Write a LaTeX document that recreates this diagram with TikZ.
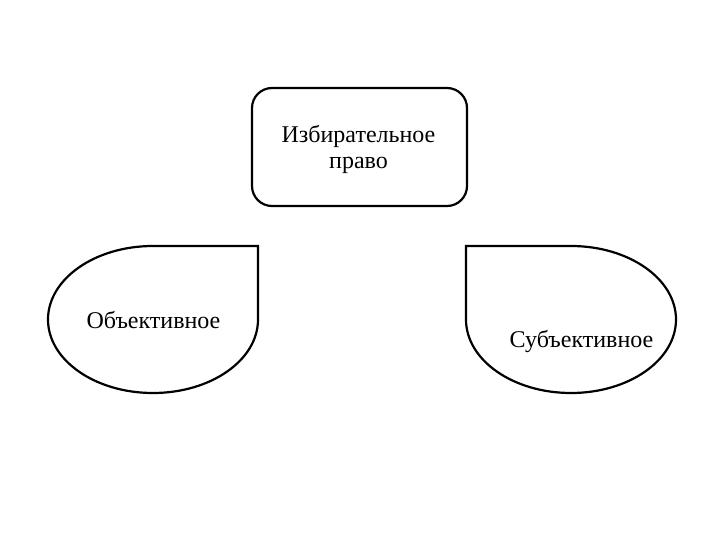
\documentclass[tikz,border=0pt]{standalone}
\usepackage{fontspec}
\setmainfont{Liberation Serif}
\begin{document}
\begin{tikzpicture}[x=1pt,y=-1pt,
  outline/.style={draw=black,line width=2.2pt,fill=white},
  lbl/.style={font=\fontsize{24}{26}\selectfont,align=center,inner sep=0pt}]
\useasboundingbox[fill=white] (0,0) rectangle (720,540);
\node[outline,rounded corners=20pt,minimum width=215pt,minimum height=118pt,inner sep=0pt] (top) at (359.5,147) {};
\node[lbl,anchor=base] (t1) at (358.5,143) {Избирательное};
\node[lbl,anchor=base] (t2) at (358.5,169) {право};
\draw[outline] (258,246) -- (258,319.5) arc[start angle=0,end angle=270,x radius=105,y radius=73.5] -- cycle;
\draw[outline] (466,246) -- (466,319.5) arc[start angle=180,end angle=-90,x radius=105,y radius=73.5] -- cycle;
\node[lbl,anchor=base] (obj) at (153.5,328) {Объективное};
\node[lbl,anchor=base] (subj) at (581.5,347) {Субъективное};
\end{tikzpicture}
\end{document}
